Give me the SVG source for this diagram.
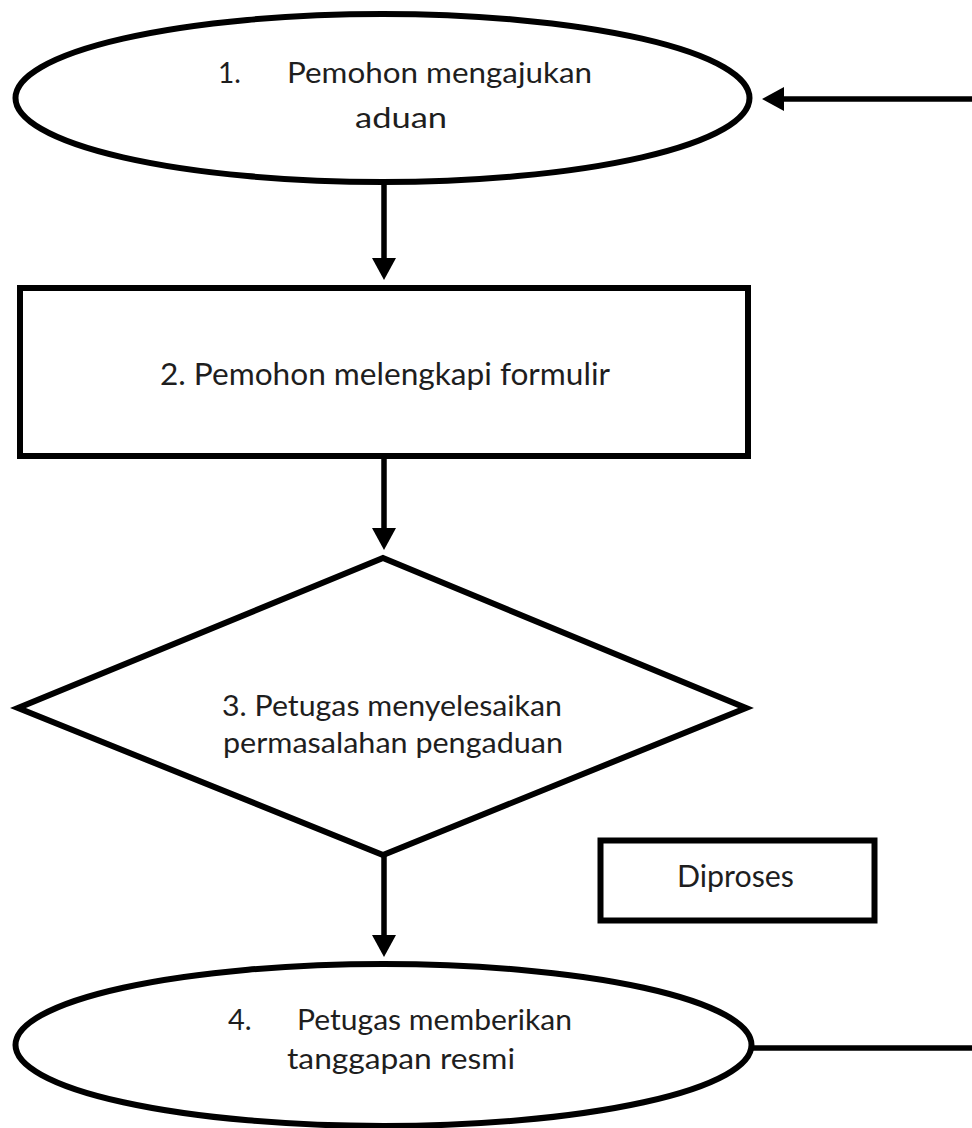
<svg xmlns="http://www.w3.org/2000/svg" width="972" height="1128" viewBox="0 0 972 1128">
<defs>
<style>
.shape{fill:#fff;stroke:#000;stroke-width:6}
.conn{fill:none;stroke:#000;stroke-width:5.5}
.t{font-family:Lato,"Open Sans","Liberation Sans",sans-serif;fill:#1e1e1e}
</style>
<marker id="ah" viewBox="0 0 22 24" refX="10" refY="12" markerWidth="22" markerHeight="24" markerUnits="userSpaceOnUse" orient="auto">
<path d="M0,0 L22,12 L0,24 Z" fill="#000"/>
</marker>
</defs>
<rect width="972" height="1128" fill="#fff"/>
<g id="connectors">
<line class="conn" x1="384" y1="183" x2="384" y2="268" marker-end="url(#ah)"/>
<line class="conn" x1="384" y1="456" x2="384" y2="538" marker-end="url(#ah)"/>
<line class="conn" x1="384" y1="855" x2="384" y2="945" marker-end="url(#ah)"/>
<line class="conn" x1="972" y1="99" x2="774" y2="99" marker-end="url(#ah)"/>
<line class="conn" x1="752" y1="1048" x2="972" y2="1048"/>
</g>
<g id="node1">
<ellipse class="shape" cx="382.5" cy="98" rx="367" ry="84"/>
<text class="t" x="218" y="83" font-size="28">1.</text>
<text class="t" x="287" y="83" font-size="28" textLength="305" lengthAdjust="spacingAndGlyphs">Pemohon mengajukan</text>
<text class="t" x="355" y="128" font-size="28" textLength="92" lengthAdjust="spacingAndGlyphs">aduan</text>
</g>
<g id="node2">
<rect class="shape" x="20" y="288" width="728" height="168"/>
<text class="t" x="160" y="385" font-size="30" textLength="450" lengthAdjust="spacingAndGlyphs">2. Pemohon melengkapi formulir</text>
</g>
<g id="node3">
<polygon class="shape" points="383,558 746,708 383,855 18,708"/>
<text class="t" x="222" y="716" font-size="29" textLength="340" lengthAdjust="spacingAndGlyphs">3. Petugas menyelesaikan</text>
<text class="t" x="223" y="753" font-size="29" textLength="340" lengthAdjust="spacingAndGlyphs">permasalahan pengaduan</text>
</g>
<g id="diproses">
<rect class="shape" x="600.5" y="840.5" width="274" height="80" stroke-width="7"/>
<text class="t" x="677" y="887" font-size="30" textLength="117" lengthAdjust="spacingAndGlyphs">Diproses</text>
</g>
<g id="node4">
<ellipse class="shape" cx="383.5" cy="1045" rx="368" ry="81"/>
<text class="t" x="228" y="1030" font-size="29">4.</text>
<text class="t" x="297" y="1030" font-size="29" textLength="275" lengthAdjust="spacingAndGlyphs">Petugas memberikan</text>
<text class="t" x="287" y="1069" font-size="29" textLength="228" lengthAdjust="spacingAndGlyphs">tanggapan resmi</text>
</g>
</svg>
